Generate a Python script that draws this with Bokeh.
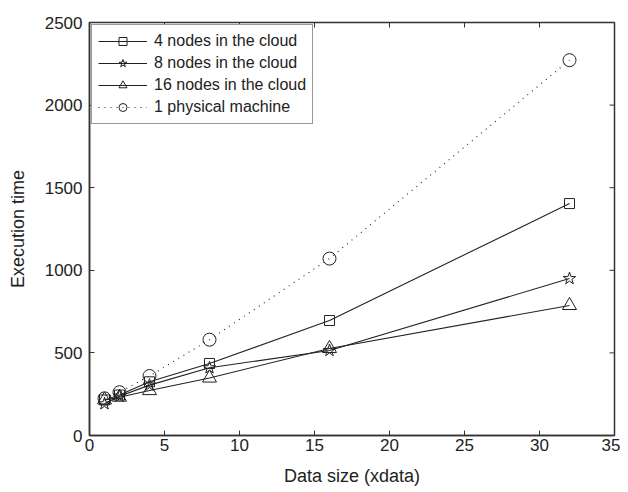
import math
from bokeh.plotting import figure
from bokeh.models import Range1d, FixedTicker, Legend, LegendItem
from bokeh.embed import file_html
from bokeh.resources import INLINE

x_sizes = [1, 2, 4, 8, 16, 32]
nodes4 = [215, 245, 325, 436, 696, 1404]
nodes8 = [192, 238, 305, 410, 515, 950]
nodes16 = [215, 232, 272, 348, 527, 787]
physical = [225, 262, 360, 580, 1071, 2272]
x_ticks = [0, 5, 10, 15, 20, 25, 30, 35]
y_ticks = [0, 500, 1000, 1500, 2000, 2500]
x_min, x_max = 0, 35
y_min, y_max = 0, 2500

FONT = "Liberation Sans"
INK = "#222222"
FRAME = "#333333"

p = figure(width=620, height=490, output_backend="svg", toolbar_location=None,
           x_range=Range1d(x_min, x_max), y_range=Range1d(y_min, y_max),
           min_border_left=89, min_border_right=6, min_border_top=22, min_border_bottom=55)
p.grid.visible = False
p.outline_line_color = FRAME
p.outline_line_width = 1.5
p.background_fill_color = "white"
p.border_fill_color = "white"

for ax, ticks in ((p.xaxis[0], x_ticks), (p.yaxis[0], y_ticks)):
    ax.ticker = FixedTicker(ticks=ticks)
    ax.major_tick_in = 5
    ax.major_tick_out = 0
    ax.minor_tick_line_color = None
    ax.axis_line_color = FRAME
    ax.axis_line_width = 1.5
    ax.major_tick_line_color = FRAME
    ax.major_label_text_font = FONT
    ax.major_label_text_font_size = "17px"
    ax.major_label_text_color = INK
    ax.axis_label_text_font = FONT
    ax.axis_label_text_font_size = "18px"
    ax.axis_label_text_font_style = "normal"
    ax.axis_label_text_color = INK
p.xaxis[0].axis_label = "Data size (xdata)"
p.yaxis[0].axis_label = "Execution time"
p.xaxis[0].major_label_standoff = 3
p.xaxis[0].axis_label_standoff = 12
p.yaxis[0].major_label_standoff = 7
p.yaxis[0].axis_label_standoff = 14

# inward ticks on the top and right edges of the box
p.scatter(x_ticks, [y_max] * len(x_ticks), marker="dash", angle=math.pi / 2, size=10,
          line_color=FRAME, line_width=1)
p.scatter([x_max] * len(y_ticks), y_ticks, marker="dash", size=10,
          line_color=FRAME, line_width=1)

lw = 1.1
r4l = p.line(x_sizes, nodes4, line_color=INK, line_width=lw)
r4m = p.scatter(x_sizes, nodes4, marker="square", size=10, fill_color=None, line_color=INK)
r8l = p.line(x_sizes, nodes8, line_color=INK, line_width=lw)
r8m = p.scatter(x_sizes, nodes8, marker="star", size=13, fill_color=None, line_color=INK)
r16l = p.line(x_sizes, nodes16, line_color=INK, line_width=lw)
r16m = p.scatter(x_sizes, nodes16, marker="triangle", size=14, fill_color=None, line_color=INK)
rpl = p.line(x_sizes, physical, line_color=INK, line_width=lw, line_dash="1 5")
rpm = p.scatter(x_sizes, physical, marker="circle", size=13, fill_color=None, line_color=INK)

legend = Legend(items=[
    LegendItem(label="4 nodes in the cloud", renderers=[r4l, r4m]),
    LegendItem(label="8 nodes in the cloud", renderers=[r8l, r8m]),
    LegendItem(label="16 nodes in the cloud", renderers=[r16l, r16m]),
    LegendItem(label="1 physical machine", renderers=[rpl, rpm]),
], location="top_left")
legend.label_text_font = FONT
legend.label_text_font_size = "16px"
legend.label_text_color = INK
legend.border_line_color = FRAME
legend.border_line_width = 1.2
legend.glyph_width = 49
legend.glyph_height = 20
legend.label_height = 20
legend.label_standoff = 7
legend.spacing = 2
legend.padding = 6
legend.margin = 2
legend.background_fill_alpha = 1.0
p.add_layout(legend)

open("out.html", "w").write(file_html(p, INLINE))
